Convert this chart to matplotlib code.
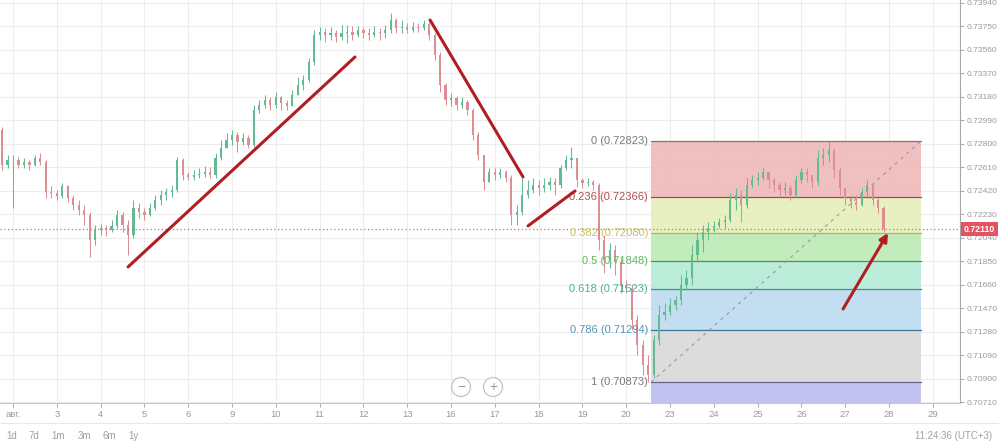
import numpy as np
import matplotlib
matplotlib.use('Agg')
import matplotlib.pyplot as plt
from matplotlib.patches import Rectangle, Circle
from matplotlib.lines import Line2D
import matplotlib.transforms as mtransforms

plt.rcParams['font.family'] = ['Liberation Sans', 'DejaVu Sans']

# ---------------- data ----------------
day_labels = ['авг.', '3', '4', '5', '6', '9', '10', '11', '12', '13', '16', '17',
              '18', '19', '20', '23', '24', '25', '26', '27', '28', '29']

candles_per_day = 8
first_candle_pos = -0.25
open_first = 0.72912

closes = [
    0.72629, 0.72670, 0.72670, 0.72629, 0.72653, 0.72629, 0.72686, 0.72653,
    0.72411, 0.72403, 0.72378, 0.72459, 0.72362, 0.72306, 0.72265, 0.72225,
    0.72022, 0.72103, 0.72119, 0.72103, 0.72136, 0.72225, 0.72144, 0.72063,
    0.72281, 0.72249, 0.72225, 0.72281, 0.72346, 0.72386, 0.72411, 0.72427,
    0.72670, 0.72548, 0.72532, 0.72548, 0.72556, 0.72573, 0.72548, 0.72686,
    0.72767, 0.72831, 0.72872, 0.72815, 0.72848, 0.72791, 0.73074, 0.73115,
    0.73155, 0.73115, 0.73179, 0.73131, 0.73106, 0.73195, 0.73276, 0.73317,
    0.73462, 0.73681, 0.73705, 0.73681, 0.73697, 0.73665, 0.73697, 0.73705,
    0.73681, 0.73721, 0.73697, 0.73681, 0.73705, 0.73697, 0.73721, 0.73802,
    0.73737, 0.73746, 0.73721, 0.73746, 0.73737, 0.73770, 0.73681, 0.73519,
    0.73276, 0.73155, 0.73171, 0.73115, 0.73139, 0.73074, 0.72872, 0.72710,
    0.72492, 0.72573, 0.72548, 0.72573, 0.72524, 0.72225, 0.72249, 0.72386,
    0.72427, 0.72467, 0.72443, 0.72467, 0.72492, 0.72467, 0.72605, 0.72670,
    0.72686, 0.72508, 0.72484, 0.72492, 0.72467, 0.72022, 0.71861, 0.71941,
    0.71844, 0.71658, 0.71634, 0.71375, 0.71173, 0.71011, 0.70930, 0.71213,
    0.71416, 0.71440, 0.71497, 0.71537, 0.71658, 0.71715, 0.71901, 0.72022,
    0.72087, 0.72119, 0.72136, 0.72168, 0.72184, 0.72346, 0.72386, 0.72306,
    0.72467, 0.72508, 0.72524, 0.72573, 0.72508, 0.72467, 0.72427, 0.72443,
    0.72386, 0.72508, 0.72573, 0.72548, 0.72492, 0.72686, 0.72710, 0.72750,
    0.72589, 0.72443, 0.72362, 0.72330, 0.72306, 0.72411, 0.72467, 0.72346,
    0.72281, 0.72110,
]

highs = [
    0.72937, 0.72710, 0.72710, 0.72694, 0.72686, 0.72670, 0.72710, 0.72726,
    0.72670, 0.72459, 0.72427, 0.72484, 0.72467, 0.72386, 0.72346, 0.72306,
    0.72249, 0.72144, 0.72152, 0.72144, 0.72184, 0.72265, 0.72249, 0.72184,
    0.72346, 0.72322, 0.72281, 0.72322, 0.72386, 0.72427, 0.72443, 0.72467,
    0.72694, 0.72686, 0.72573, 0.72589, 0.72605, 0.72621, 0.72613, 0.72726,
    0.72831, 0.72888, 0.72912, 0.72896, 0.72888, 0.72872, 0.73115, 0.73155,
    0.73195, 0.73179, 0.73220, 0.73187, 0.73155, 0.73236, 0.73341, 0.73357,
    0.73495, 0.73721, 0.73746, 0.73737, 0.73746, 0.73721, 0.73762, 0.73762,
    0.73754, 0.73754, 0.73746, 0.73737, 0.73754, 0.73737, 0.73762, 0.73859,
    0.73818, 0.73802, 0.73778, 0.73786, 0.73778, 0.73802, 0.73786, 0.73697,
    0.73543, 0.73293, 0.73212, 0.73187, 0.73179, 0.73155, 0.73090, 0.72896,
    0.72710, 0.72605, 0.72605, 0.72605, 0.72589, 0.72548, 0.72306, 0.72524,
    0.72508, 0.72524, 0.72508, 0.72524, 0.72532, 0.72524, 0.72629, 0.72710,
    0.72775, 0.72670, 0.72524, 0.72524, 0.72508, 0.72484, 0.72063, 0.71998,
    0.71982, 0.71877, 0.71699, 0.71658, 0.71416, 0.71213, 0.71092, 0.71254,
    0.71497, 0.71513, 0.71553, 0.71569, 0.71739, 0.71780, 0.71982, 0.72087,
    0.72144, 0.72168, 0.72176, 0.72200, 0.72225, 0.72403, 0.72443, 0.72427,
    0.72524, 0.72548, 0.72573, 0.72605, 0.72573, 0.72524, 0.72492, 0.72492,
    0.72467, 0.72548, 0.72605, 0.72605, 0.72548, 0.72750, 0.72767, 0.72823,
    0.72767, 0.72605, 0.72443, 0.72386, 0.72386, 0.72443, 0.72508, 0.72467,
    0.72362, 0.72297,
]

lows = [
    0.72589, 0.72605, 0.72281, 0.72605, 0.72605, 0.72589, 0.72621, 0.72629,
    0.72362, 0.72362, 0.72346, 0.72362, 0.72330, 0.72265, 0.72225, 0.72144,
    0.71885, 0.71982, 0.72063, 0.72055, 0.72087, 0.72119, 0.72087, 0.71901,
    0.72039, 0.72200, 0.72184, 0.72217, 0.72265, 0.72306, 0.72346, 0.72370,
    0.72411, 0.72508, 0.72508, 0.72508, 0.72524, 0.72532, 0.72524, 0.72524,
    0.72670, 0.72767, 0.72791, 0.72734, 0.72791, 0.72767, 0.72775, 0.73050,
    0.73090, 0.73074, 0.73090, 0.73074, 0.73074, 0.73106, 0.73195, 0.73236,
    0.73301, 0.73438, 0.73640, 0.73624, 0.73640, 0.73624, 0.73640, 0.73616,
    0.73640, 0.73665, 0.73657, 0.73640, 0.73665, 0.73640, 0.73657, 0.73697,
    0.73697, 0.73697, 0.73697, 0.73705, 0.73705, 0.73721, 0.73640, 0.73479,
    0.73220, 0.73115, 0.73106, 0.73074, 0.73090, 0.73034, 0.72831, 0.72670,
    0.72427, 0.72492, 0.72508, 0.72524, 0.72492, 0.72144, 0.72144, 0.72225,
    0.72362, 0.72403, 0.72386, 0.72411, 0.72427, 0.72386, 0.72443, 0.72589,
    0.72605, 0.72451, 0.72443, 0.72459, 0.72427, 0.71941, 0.71755, 0.71796,
    0.71739, 0.71594, 0.71594, 0.71294, 0.71092, 0.70930, 0.70873, 0.70906,
    0.71173, 0.71375, 0.71416, 0.71456, 0.71497, 0.71618, 0.71658, 0.71844,
    0.71925, 0.72022, 0.72087, 0.72119, 0.72119, 0.72168, 0.72265, 0.72168,
    0.72281, 0.72443, 0.72467, 0.72508, 0.72443, 0.72411, 0.72370, 0.72386,
    0.72346, 0.72370, 0.72484, 0.72492, 0.72443, 0.72467, 0.72629, 0.72653,
    0.72524, 0.72386, 0.72306, 0.72281, 0.72265, 0.72297, 0.72362, 0.72306,
    0.72241, 0.72087,
]

last_price = 0.72110
price_ticks = [0.70710, 0.70900, 0.71090, 0.71280, 0.71470, 0.71660, 0.71850,
               0.72040, 0.72230, 0.72420, 0.72610, 0.72800, 0.72990, 0.73180,
               0.73370, 0.73560, 0.73750, 0.73940]

fib_ratios = [0, 0.236, 0.382, 0.5, 0.618, 0.786, 1]
fib_prices = [0.72823, 0.72366, 0.72080, 0.71848, 0.71623, 0.71294, 0.70873]
fib_span = (14.57, 20.73)
fib_fills = ['#efb9b9', '#e6efbb', '#bdeab5', '#b4ecd6', '#bcdbef', '#d9d9d9', '#bdbdf0']
fib_lines = ['#8c7070', '#9b4b4b', '#b3b350', '#3f9a4f', '#3a9384', '#3f7595', '#65658c']
fib_text_colors = ['#7a7a7a', '#b34d4d', '#c4c45a', '#5cb85c', '#4cae9c', '#4f96bd', '#7a7a7a']

# hand-drawn annotation strokes (day position, price)
trend_strokes = [((2.626, 0.71804), (7.808, 0.73503)),
                 ((9.521, 0.73802), (11.644, 0.72532)),
                 ((11.758, 0.72136), (12.831, 0.72419))]
trend_arrow = ((18.950, 0.71464), (19.977, 0.72079))

range_buttons = ['1d', '7d', '1m', '3m', '6m', '1y']
clock_text = '11:24:36 (UTC+3)'

# ---------------- figure ----------------
W, H = 999, 446
fig = plt.figure(figsize=(W / 100, H / 100), dpi=100)
fig.patch.set_facecolor('white')
ax = fig.add_axes([0, 43 / H, 960 / W, 403 / H])
ax.set_facecolor('white')

ax.set_xlim(-0.297, 21.62)
ax.set_ylim(0.70703, 0.73964)

# grid
ax.set_xticks(range(len(day_labels)))
ax.set_xticklabels(day_labels)
ax.set_yticks(price_ticks)
ax.set_yticklabels([f'{p:.5f}' for p in price_ticks])
ax.grid(True, color='#ededed', lw=0.8)
ax.set_axisbelow(True)

ax.yaxis.tick_right()
ax.tick_params(axis='y', length=3, pad=2, colors='#9a9a9a', labelsize=6.1, width=0.6)
ax.tick_params(axis='x', length=3, pad=2, colors='#9a9a9a', labelsize=6.8, width=0.6)
for s in ['top', 'left']:
    ax.spines[s].set_visible(False)
ax.spines['right'].set_color('#a8a8a8')
ax.spines['bottom'].set_color('#c8c8c8')
ax.spines['right'].set_linewidth(0.8)
ax.spines['bottom'].set_linewidth(0.8)

# fib bands
x0, x1 = fib_span
bounds = fib_prices + [0.70703]
for i in range(len(fib_fills)):
    top, bot = bounds[i], bounds[i + 1]
    ax.add_patch(Rectangle((x0, bot), x1 - x0, top - bot, facecolor=fib_fills[i],
                           edgecolor='none', alpha=0.9, zorder=1))
for p, lc in zip(fib_prices, fib_lines):
    ax.plot([x0, x1], [p, p], color=lc, lw=0.9, zorder=2)
for r, p, tc in zip(fib_ratios, fib_prices, fib_text_colors):
    ax.text(x0 - 0.07, p, f'{r:g} ({p:.5f})', ha='right', va='center',
            color=tc, fontsize=8, zorder=6)
ax.plot([x0, x1], [fib_prices[-1], fib_prices[0]], color='#999999', lw=0.8,
        ls=(0, (3, 4)), zorder=2)

# candles
closes = np.array(closes)
highs = np.array(highs)
lows = np.array(lows)
opens = np.concatenate([[open_first], closes[:-1]])
xs = first_candle_pos + np.arange(len(closes)) / candles_per_day
up = closes >= opens
col = np.where(up, '#62bb92', '#dd8e94')
ax.vlines(xs, lows, highs, colors=col, lw=0.75, zorder=3)
body_h = np.maximum(np.abs(closes - opens), 0.00003)
ax.bar(xs, body_h, bottom=np.minimum(opens, closes), width=0.05, color=col,
       zorder=4, linewidth=0)

# current price line
ax.axhline(last_price, color='#e0636b', lw=0.9, ls=(0, (1, 2)), zorder=5)
trans = mtransforms.blended_transform_factory(ax.transAxes, ax.transData)
ax.text(1.004, last_price, f'{last_price:.5f}', transform=trans, ha='left', va='center',
        color='white', fontsize=6.3, fontweight='bold', zorder=10, clip_on=False,
        bbox=dict(boxstyle='square,pad=0.3', fc='#e25560', ec='none'))

# annotations
for (a, b) in trend_strokes:
    ax.plot([a[0], b[0]], [a[1], b[1]], color='#b01e22', lw=2.2, solid_capstyle='round', zorder=7)
ax.annotate('', xy=trend_arrow[1], xytext=trend_arrow[0],
            arrowprops=dict(arrowstyle='-|>', color='#b01e22', lw=2.2, mutation_scale=12,
                            shrinkA=0, shrinkB=0), zorder=7)

# zoom buttons
for cx, sym in [(4.61, '−'), (4.93, '+')]:
    fig.add_artist(Circle((cx, 0.59), 0.095, transform=fig.dpi_scale_trans,
                          facecolor='white', edgecolor='#c4c4c4', lw=0.9, zorder=20))
    fig.text(cx / (W / 100), 0.59 / (H / 100), sym, ha='center', va='center',
             color='#9a9a9a', fontsize=10, zorder=21)

# bottom bar
fig.add_artist(Line2D([0, 1], [1 - 423 / H] * 2, transform=fig.transFigure,
                      color='#e8e8e8', lw=0.8))
for xpx, lab in zip([12, 34, 58, 84, 109, 133], range_buttons):
    fig.text(xpx / W, 1 - 436 / H, lab, ha='center', va='center', color='#a0a0a0', fontsize=7)
fig.text(992 / W, 1 - 436 / H, clock_text, ha='right', va='center', color='#a0a0a0', fontsize=7)

fig.savefig('out.png', dpi=100)
